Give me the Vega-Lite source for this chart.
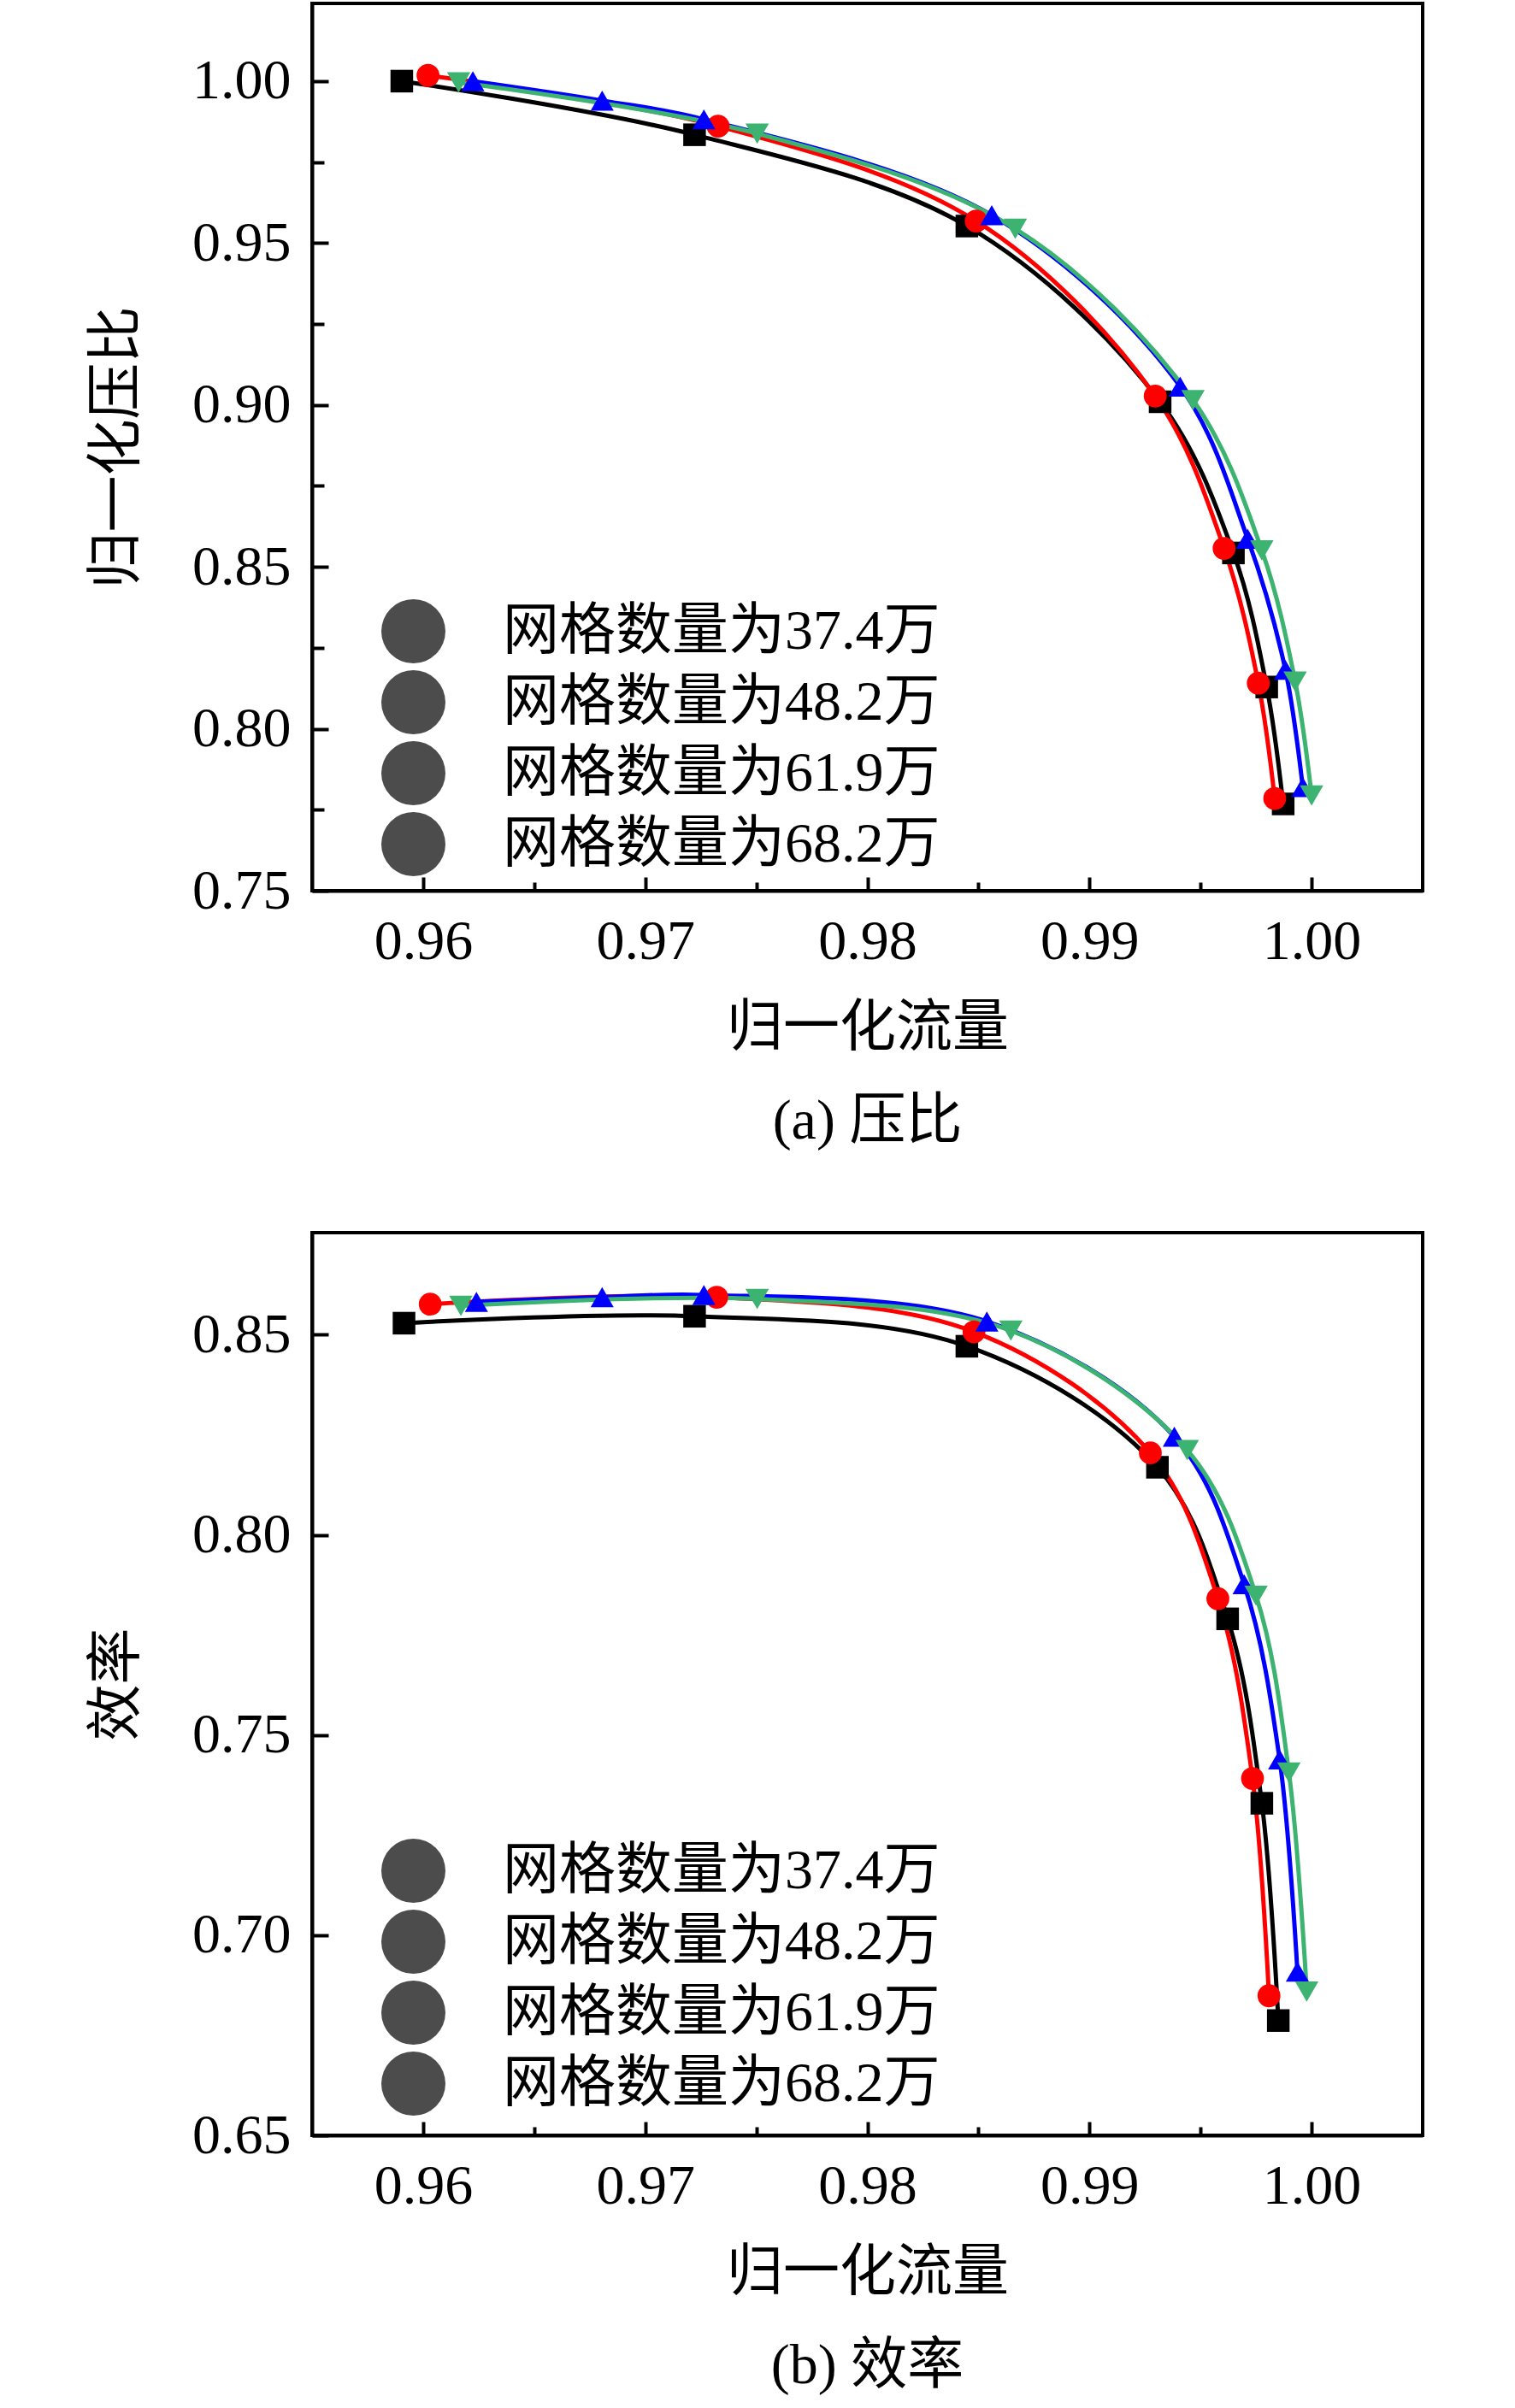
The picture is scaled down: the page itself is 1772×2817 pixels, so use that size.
{
  "$schema": "https://vega.github.io/schema/vega-lite/v6.json",
  "padding": {"top": 2, "left": 101, "right": 10, "bottom": 10},
  "background": "white",
  "datasets": {
    "pts": [
      {"panel": "a", "series": "网格数量为37.4万", "x": 0.95904, "y": 1.0},
      {"panel": "a", "series": "网格数量为37.4万", "x": 0.97222, "y": 0.98344},
      {"panel": "a", "series": "网格数量为37.4万", "x": 0.98448, "y": 0.95525},
      {"panel": "a", "series": "网格数量为37.4万", "x": 0.99318, "y": 0.90099},
      {"panel": "a", "series": "网格数量为37.4万", "x": 0.99648, "y": 0.8543},
      {"panel": "a", "series": "网格数量为37.4万", "x": 0.99798, "y": 0.8129},
      {"panel": "a", "series": "网格数量为37.4万", "x": 0.99872, "y": 0.7768},
      {"panel": "a", "series": "网格数量为48.2万", "x": 0.96022, "y": 1.00176},
      {"panel": "a", "series": "网格数量为48.2万", "x": 0.97328, "y": 0.98608},
      {"panel": "a", "series": "网格数量为48.2万", "x": 0.9849, "y": 0.9568},
      {"panel": "a", "series": "网格数量为48.2万", "x": 0.99296, "y": 0.90275},
      {"panel": "a", "series": "网格数量为48.2万", "x": 0.99606, "y": 0.8557},
      {"panel": "a", "series": "网格数量为48.2万", "x": 0.9976, "y": 0.8141},
      {"panel": "a", "series": "网格数量为48.2万", "x": 0.99834, "y": 0.7785},
      {"panel": "a", "series": "网格数量为61.9万", "x": 0.96224, "y": 1.0},
      {"panel": "a", "series": "网格数量为61.9万", "x": 0.96806, "y": 0.994},
      {"panel": "a", "series": "网格数量为61.9万", "x": 0.97264, "y": 0.9882},
      {"panel": "a", "series": "网格数量为61.9万", "x": 0.9856, "y": 0.9586},
      {"panel": "a", "series": "网格数量为61.9万", "x": 0.99408, "y": 0.9057},
      {"panel": "a", "series": "网格数量为61.9万", "x": 0.99712, "y": 0.8587},
      {"panel": "a", "series": "网格数量为61.9万", "x": 0.99882, "y": 0.8182},
      {"panel": "a", "series": "网格数量为61.9万", "x": 0.9996, "y": 0.782},
      {"panel": "a", "series": "网格数量为68.2万", "x": 0.9616, "y": 0.9996},
      {"panel": "a", "series": "网格数量为68.2万", "x": 0.97504, "y": 0.9838},
      {"panel": "a", "series": "网格数量为68.2万", "x": 0.98666, "y": 0.9544},
      {"panel": "a", "series": "网格数量为68.2万", "x": 0.99466, "y": 0.9015},
      {"panel": "a", "series": "网格数量为68.2万", "x": 0.99776, "y": 0.8551},
      {"panel": "a", "series": "网格数量为68.2万", "x": 0.99926, "y": 0.8146},
      {"panel": "a", "series": "网格数量为68.2万", "x": 1.0, "y": 0.7794},
      {"panel": "b", "series": "网格数量为37.4万", "x": 0.95914, "y": 0.85288},
      {"panel": "b", "series": "网格数量为37.4万", "x": 0.97222, "y": 0.85461},
      {"panel": "b", "series": "网格数量为37.4万", "x": 0.98448, "y": 0.84712},
      {"panel": "b", "series": "网格数量为37.4万", "x": 0.99306, "y": 0.81689},
      {"panel": "b", "series": "网格数量为37.4万", "x": 0.99622, "y": 0.77902},
      {"panel": "b", "series": "网格数量为37.4万", "x": 0.99776, "y": 0.73295},
      {"panel": "b", "series": "网格数量为37.4万", "x": 0.9985, "y": 0.67867},
      {"panel": "b", "series": "网格数量为48.2万", "x": 0.96032, "y": 0.85763},
      {"panel": "b", "series": "网格数量为48.2万", "x": 0.97322, "y": 0.85936},
      {"panel": "b", "series": "网格数量为48.2万", "x": 0.9848, "y": 0.85072},
      {"panel": "b", "series": "网格数量为48.2万", "x": 0.99274, "y": 0.82048},
      {"panel": "b", "series": "网格数量为48.2万", "x": 0.99578, "y": 0.78406},
      {"panel": "b", "series": "网格数量为48.2万", "x": 0.99734, "y": 0.73914},
      {"panel": "b", "series": "网格数量为48.2万", "x": 0.99808, "y": 0.68486},
      {"panel": "b", "series": "网格数量为61.9万", "x": 0.9624, "y": 0.8582},
      {"panel": "b", "series": "网格数量为61.9万", "x": 0.96806, "y": 0.85936},
      {"panel": "b", "series": "网格数量为61.9万", "x": 0.97264, "y": 0.85993},
      {"panel": "b", "series": "网格数量为61.9万", "x": 0.98538, "y": 0.85331},
      {"panel": "b", "series": "网格数量为61.9万", "x": 0.99382, "y": 0.82452},
      {"panel": "b", "series": "网格数量为61.9万", "x": 0.99696, "y": 0.78766},
      {"panel": "b", "series": "网格数量为61.9万", "x": 0.99856, "y": 0.7439},
      {"panel": "b", "series": "网格数量为61.9万", "x": 0.99936, "y": 0.69091},
      {"panel": "b", "series": "网格数量为68.2万", "x": 0.9617, "y": 0.8572},
      {"panel": "b", "series": "网格数量为68.2万", "x": 0.97504, "y": 0.85893},
      {"panel": "b", "series": "网格数量为68.2万", "x": 0.98646, "y": 0.851},
      {"panel": "b", "series": "网格数量为68.2万", "x": 0.9944, "y": 0.8212},
      {"panel": "b", "series": "网格数量为68.2万", "x": 0.9975, "y": 0.7848},
      {"panel": "b", "series": "网格数量为68.2万", "x": 0.99898, "y": 0.7406},
      {"panel": "b", "series": "网格数量为68.2万", "x": 0.99978, "y": 0.6859}
    ]
  },
  "vconcat": [
    {
      "width": 1299,
      "height": 1038,
      "data": {"name": "pts"},
      "transform": [{"filter": "datum.panel === 'a'"}],
      "title": {"text": "(a) 压比", "orient": "bottom", "offset": 45},
      "encoding": {
        "x": {
          "field": "x", "type": "quantitative",
          "scale": {"domain": [0.955, 1.005], "nice": false, "zero": false},
          "axis": {
            "title": "归一化流量",
            "values": [0.96, 0.965, 0.97, 0.975, 0.98, 0.985, 0.99, 0.995, 1.0],
            "format": ".2f",
            "labelExpr": "abs(datum.value * 100 - round(datum.value * 100)) < 0.001 ? datum.label : ''",
            "tickSize": {"condition": {"test": "abs(datum.value * 100 - round(datum.value * 100)) < 0.001", "value": -16}, "value": -10},
            "labelPadding": 43,
            "titlePadding": 36
          }
        },
        "y": {
          "field": "y", "type": "quantitative",
          "scale": {"domain": [0.75, 1.024], "nice": false, "zero": false},
          "axis": {
            "title": "归一化压比",
            "values": [0.75, 0.775, 0.8, 0.825, 0.85, 0.875, 0.9, 0.925, 0.95, 0.975, 1.0],
            "format": ".2f",
            "labelExpr": "abs(datum.value * 20 - round(datum.value * 20)) < 0.001 ? datum.label : ''",
            "tickSize": {"condition": {"test": "abs(datum.value * 20 - round(datum.value * 20)) < 0.001", "value": -19}, "value": -14},
            "labelPadding": 44,
            "titlePadding": 54
          }
        },
        "color": {
          "field": "series", "type": "nominal",
          "scale": {
            "domain": ["网格数量为37.4万", "网格数量为48.2万", "网格数量为61.9万", "网格数量为68.2万"],
            "range": ["#000000", "#ff0000", "#0000ff", "#3cb371"]
          },
          "legend": null
        }
      },
      "layer": [
        {
          "mark": {"type": "line", "interpolate": "catmull-rom", "strokeWidth": 5}
        },
        {
          "mark": {"type": "point", "filled": true},
          "encoding": {
            "shape": {
              "field": "series", "type": "nominal",
              "scale": {
                "domain": ["网格数量为37.4万", "网格数量为48.2万", "网格数量为61.9万", "网格数量为68.2万"],
                "range": ["square", "circle", "triangle-up", "triangle-down"]
              },
              "legend": null
            },
            "size": {
              "field": "series", "type": "nominal",
              "scale": {
                "domain": ["网格数量为37.4万", "网格数量为48.2万", "网格数量为61.9万", "网格数量为68.2万"],
                "range": [700, 750, 1100, 1100]
              },
              "legend": null
            },
            "opacity": {
              "field": "series", "type": "nominal",
              "scale": {"range": [1, 1, 1, 1]},
              "legend": {
                "orient": "none", "legendX": 80, "legendY": 696,
                "title": null, "padding": 0, "rowPadding": 2,
                "labelFont": "Liberation Serif, Noto Sans CJK SC", "labelFontSize": 66, "labelColor": "black",
                "labelOffset": 66, "labelLimit": 0, "symbolSize": 5625,
                "encode": {"symbols": {
                  "size": {"value": 5625},
                  "strokeWidth": {"value": 0},
                  "stroke": {"value": "transparent"},
                  "fill": {"value": {"signal": "datum.value === '网格数量为37.4万' ? '#000000' : datum.value === '网格数量为48.2万' ? '#ff0000' : datum.value === '网格数量为61.9万' ? '#0000ff' : '#3cb371'"}},
                  "shape": {"value": {"signal": "datum.value === '网格数量为37.4万' ? 'M-2,-0.08H2V0.08H-2Z M-0.37,-0.37H0.37V0.37H-0.37Z' : datum.value === '网格数量为48.2万' ? 'M-2,-0.08H2V0.08H-2Z M0.39,0A0.39,0.39 0 1 1 -0.39,0A0.39,0.39 0 1 1 0.39,0Z' : datum.value === '网格数量为61.9万' ? 'M-2,-0.08H2V0.08H-2Z M0,-0.46L0.48,0.38L-0.48,0.38Z' : 'M-2,-0.08H2V0.08H-2Z M-0.48,-0.38L0.48,-0.38L0,0.46Z'"}}
                }}
              }
            }
          }
        }
      ]
    },
    {
      "width": 1299,
      "height": 1056,
      "data": {"name": "pts"},
      "transform": [{"filter": "datum.panel === 'b'"}],
      "title": {"text": "(b) 效率", "orient": "bottom", "offset": 45},
      "encoding": {
        "x": {
          "field": "x", "type": "quantitative",
          "scale": {"domain": [0.955, 1.005], "nice": false, "zero": false},
          "axis": {
            "title": "归一化流量",
            "values": [0.96, 0.965, 0.97, 0.975, 0.98, 0.985, 0.99, 0.995, 1.0],
            "format": ".2f",
            "labelExpr": "abs(datum.value * 100 - round(datum.value * 100)) < 0.001 ? datum.label : ''",
            "tickSize": {"condition": {"test": "abs(datum.value * 100 - round(datum.value * 100)) < 0.001", "value": -16}, "value": -10},
            "labelPadding": 43,
            "titlePadding": 36
          }
        },
        "y": {
          "field": "y", "type": "quantitative",
          "scale": {"domain": [0.65, 0.8755], "nice": false, "zero": false},
          "axis": {
            "title": "效率",
            "values": [0.65, 0.7, 0.75, 0.8, 0.85],
            "format": ".2f",
            "tickSize": -19,
            "labelPadding": 44,
            "titlePadding": 54
          }
        },
        "color": {
          "field": "series", "type": "nominal",
          "scale": {
            "domain": ["网格数量为37.4万", "网格数量为48.2万", "网格数量为61.9万", "网格数量为68.2万"],
            "range": ["#000000", "#ff0000", "#0000ff", "#3cb371"]
          },
          "legend": null
        }
      },
      "layer": [
        {
          "mark": {"type": "line", "interpolate": "catmull-rom", "strokeWidth": 5}
        },
        {
          "mark": {"type": "point", "filled": true},
          "encoding": {
            "shape": {
              "field": "series", "type": "nominal",
              "scale": {
                "domain": ["网格数量为37.4万", "网格数量为48.2万", "网格数量为61.9万", "网格数量为68.2万"],
                "range": ["square", "circle", "triangle-up", "triangle-down"]
              },
              "legend": null
            },
            "size": {
              "field": "series", "type": "nominal",
              "scale": {
                "domain": ["网格数量为37.4万", "网格数量为48.2万", "网格数量为61.9万", "网格数量为68.2万"],
                "range": [700, 750, 1100, 1100]
              },
              "legend": null
            },
            "opacity": {
              "field": "series", "type": "nominal",
              "scale": {"range": [1, 1, 1, 1]},
              "legend": {
                "orient": "none", "legendX": 80, "legendY": 708,
                "title": null, "padding": 0, "rowPadding": 2,
                "labelFont": "Liberation Serif, Noto Sans CJK SC", "labelFontSize": 66, "labelColor": "black",
                "labelOffset": 66, "labelLimit": 0, "symbolSize": 5625,
                "encode": {"symbols": {
                  "size": {"value": 5625},
                  "strokeWidth": {"value": 0},
                  "stroke": {"value": "transparent"},
                  "fill": {"value": {"signal": "datum.value === '网格数量为37.4万' ? '#000000' : datum.value === '网格数量为48.2万' ? '#ff0000' : datum.value === '网格数量为61.9万' ? '#0000ff' : '#3cb371'"}},
                  "shape": {"value": {"signal": "datum.value === '网格数量为37.4万' ? 'M-2,-0.08H2V0.08H-2Z M-0.37,-0.37H0.37V0.37H-0.37Z' : datum.value === '网格数量为48.2万' ? 'M-2,-0.08H2V0.08H-2Z M0.39,0A0.39,0.39 0 1 1 -0.39,0A0.39,0.39 0 1 1 0.39,0Z' : datum.value === '网格数量为61.9万' ? 'M-2,-0.08H2V0.08H-2Z M0,-0.46L0.48,0.38L-0.48,0.38Z' : 'M-2,-0.08H2V0.08H-2Z M-0.48,-0.38L0.48,-0.38L0,0.46Z'"}}
                }}
              }
            }
          }
        }
      ]
    }
  ],
  "resolve": {
    "scale": {"opacity": "independent"},
    "legend": {"opacity": "independent"}
  },
  "spacing": 93,
  "config": {
    "view": {"stroke": "black", "strokeWidth": 4},
    "axis": {
      "grid": false,
      "domainColor": "black", "domainWidth": 4,
      "tickColor": "black", "tickWidth": 4,
      "labelFont": "Liberation Serif", "labelFontSize": 66, "labelColor": "black",
      "titleFont": "Liberation Serif, Noto Sans CJK SC", "titleFontSize": 66,
      "titleFontWeight": "normal", "titleColor": "black"
    },
    "title": {
      "font": "Liberation Serif, Noto Sans CJK SC", "fontSize": 66,
      "fontWeight": "normal", "color": "black"
    }
  }
}
